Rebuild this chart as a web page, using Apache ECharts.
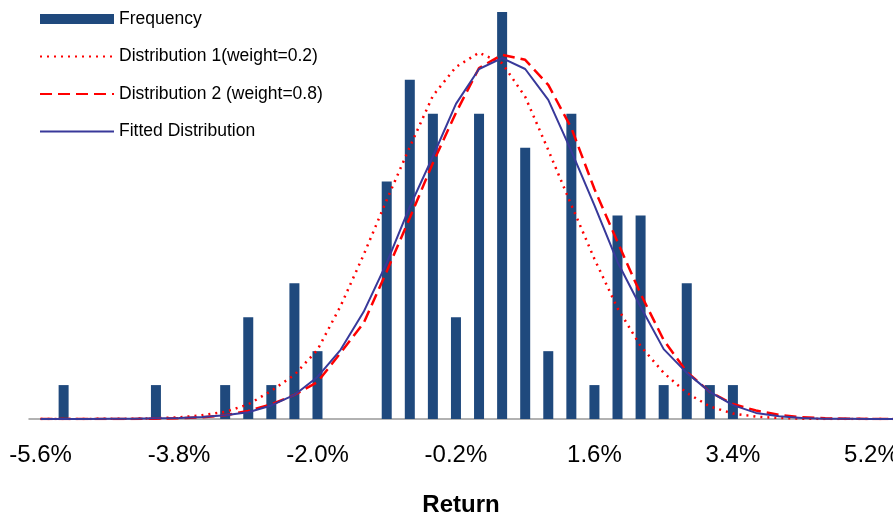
<!doctype html>
<html lang="en">
<head>
    <meta charset="utf-8">
    <title>Return distribution</title>
    <script src="https://cdn.jsdelivr.net/npm/echarts@6/dist/echarts.min.js"></script>
    <style>
        body { margin: 0; background: #fff; }
        #main { width: 893px; height: 517px; }
    </style>
</head>
<body>
<div id="main"></div>
<script>
    // return buckets (x axis categories)
    var returns = ['-5.6%', '-5.3%', '-5.0%', '-4.7%', '-4.4%', '-4.1%', '-3.8%', '-3.5%', '-3.2%', '-2.9%',
        '-2.6%', '-2.3%', '-2.0%', '-1.7%', '-1.4%', '-1.1%', '-0.8%', '-0.5%', '-0.2%', '0.1%',
        '0.4%', '0.7%', '1.0%', '1.3%', '1.6%', '1.9%', '2.2%', '2.5%', '2.8%', '3.1%',
        '3.4%', '3.7%', '4.0%', '4.3%', '4.6%', '4.9%', '5.2%', '5.5%'];

    // observed counts per bucket
    var frequency = [0, 1, 0, 0, 0, 1, 0, 0, 1, 3,
        1, 4, 2, 0, 0, 7, 10, 9, 3, 9,
        12, 8, 2, 9, 1, 6, 6, 1, 4, 1,
        1, 0, 0, 0, 0, 0, 0, 0];

    var dist1 = [0, 0, 0, 0.01, 0.01, 0.02, 0.05, 0.11, 0.21, 0.43,
        0.83, 1.3, 2.04, 3.33, 4.84, 6.46, 8.02, 9.53, 10.38, 10.8,
        10.49, 9.5, 7.93, 6.31, 4.72, 3.27, 2.15, 1.36, 0.77, 0.37,
        0.16, 0.07, 0.03, 0.01, 0, 0, 0, 0];

    var dist2 = [0, 0, 0, 0, 0, 0.01, 0.02, 0.05, 0.11, 0.24,
        0.43, 0.71, 1.09, 1.95, 2.83, 4.35, 5.93, 7.55, 9.03, 10.35,
        10.74, 10.59, 9.85, 8.58, 6.78, 5.22, 3.69, 2.33, 1.39, 0.8,
        0.44, 0.25, 0.12, 0.05, 0.02, 0.01, 0, 0];

    var fitted = [0, 0, 0, 0.01, 0.01, 0.02, 0.03, 0.06, 0.11, 0.2,
        0.4, 0.71, 1.24, 2.04, 3.16, 4.6, 6.26, 7.74, 9.29, 10.32,
        10.64, 10.32, 9.41, 7.9, 6.3, 4.63, 3.31, 2.06, 1.36, 0.8,
        0.41, 0.18, 0.08, 0.03, 0.01, 0.01, 0, 0];

    var font = 'Liberation Sans';
    // hide the marker dot that line legends draw
    var noDot = { opacity: 0 };

    echarts.init(document.getElementById('main')).setOption({
        animation: false,
        textStyle: { fontFamily: font },
        legend: {
            orient: 'vertical',
            left: 34,
            top: 5,
            itemWidth: 74,
            itemHeight: 10,
            itemGap: 19.5,
            textStyle: { fontSize: 17.5, color: '#000', fontFamily: font },
            data: [
                { name: 'Frequency', icon: 'rect' },
                { name: 'Distribution 1(weight=0.2)', itemStyle: noDot },
                { name: 'Distribution 2 (weight=0.8)', itemStyle: noDot },
                { name: 'Fitted Distribution', itemStyle: noDot }
            ]
        },
        grid: {
            left: 29,
            width: 877,
            top: 12,
            bottom: 98,
            outerBoundsMode: 'none'
        },
        xAxis: {
            type: 'category',
            data: returns,
            axisLine: { lineStyle: { color: '#999', width: 1.5 } },
            axisTick: { interval: 5, length: 8, lineStyle: { color: '#aaa', width: 1.5 } },
            axisLabel: { interval: 5, fontSize: 24, color: '#000', margin: 24, fontFamily: font }
        },
        yAxis: {
            type: 'value',
            min: 0,
            max: 12,
            show: false
        },
        graphic: [{
            type: 'text',
            x: 461,
            y: 505,
            style: {
                text: 'Return',
                align: 'center',
                verticalAlign: 'middle',
                font: 'bold 24px "Liberation Sans"',
                fill: '#000'
            }
        }],
        series: [{
            name: 'Frequency',
            type: 'bar',
            barWidth: 10,
            itemStyle: { color: '#1F497D' },
            data: frequency
        }, {
            name: 'Distribution 1(weight=0.2)',
            type: 'line',
            symbol: 'none',
            lineStyle: { color: '#FF0000', width: 2.5, type: [2, 5] },
            itemStyle: { color: '#FF0000' },
            data: dist1
        }, {
            name: 'Distribution 2 (weight=0.8)',
            type: 'line',
            symbol: 'none',
            lineStyle: { color: '#FF0000', width: 2.5, type: [12, 6] },
            itemStyle: { color: '#FF0000' },
            data: dist2
        }, {
            name: 'Fitted Distribution',
            type: 'line',
            symbol: 'none',
            lineStyle: { color: '#38399A', width: 2 },
            itemStyle: { color: '#38399A' },
            data: fitted
        }]
    });
</script>
</body>
</html>
